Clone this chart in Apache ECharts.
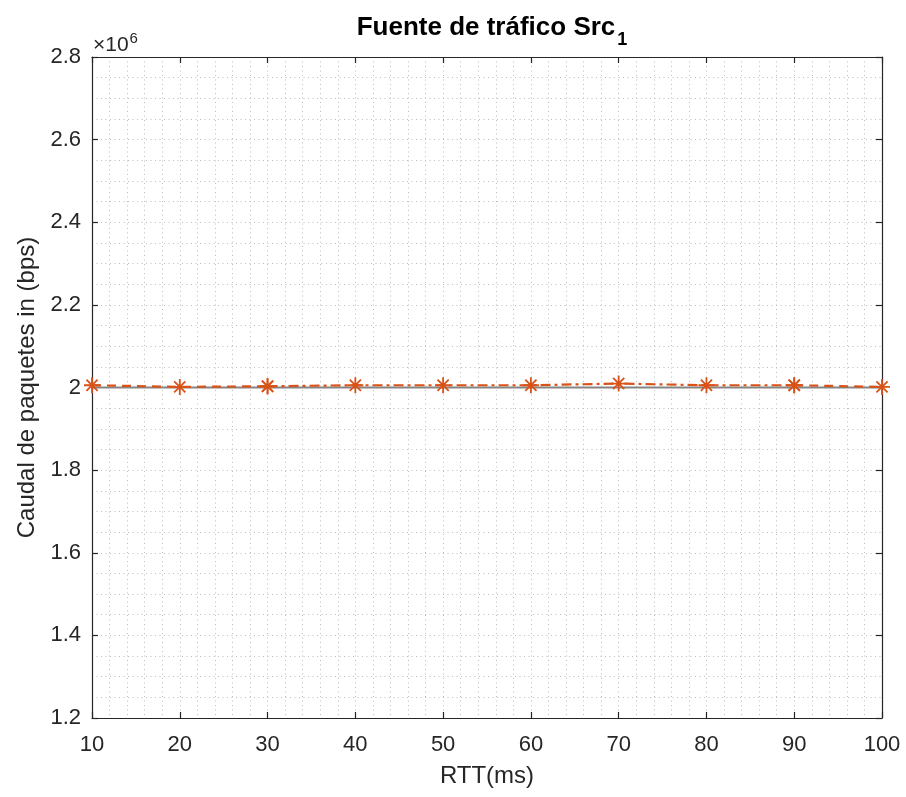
<!DOCTYPE html>
<html>
<head>
<meta charset="utf-8">
<script src="https://cdn.jsdelivr.net/npm/echarts@6/dist/echarts.min.js"></script>
<style>
  html, body { margin: 0; padding: 0; background: #fff; }
  #chart { width: 906px; height: 797px; }
</style>
</head>
<body>
<div id="chart"></div>
<script>
// RTT values (ms) and measured input throughput of source 1 (bps)
const rtt = [10, 20, 30, 40, 50, 60, 70, 80, 90, 100];
const caudal = [2005500, 2001500, 2003000, 2005500, 2005500, 2005500, 2009500, 2005500, 2005500, 2001500];
// nominal rate of the source (bps)
const nominal = [2000000, 2000000];
const nominalX = [10, 100];
const xTicks = [10, 20, 30, 40, 50, 60, 70, 80, 90, 100];
const yTicks = [1.2, 1.4, 1.6, 1.8, 2, 2.2, 2.4, 2.6, 2.8];

const FONT = "'Liberation Sans', Arial, Helvetica, sans-serif";
const INK = '#262626';
const ORANGE = '#D95319';
const GRIDC = '#bdbdbd';

const pts = rtt.map((x, i) => [x, caudal[i]]);
// line styles change along the curve: dashed, dash-dot, dashed
const segA = pts.slice(0, 3);
const segB = pts.slice(2, 9);
const segC = pts.slice(8, 10);

const asterisk = 'path://M10,0L10,20M0,10L20,10M3,3L17,17M3,17L17,3';

function dataSeries(data, dash) {
  return {
    type: 'line',
    data: data,
    symbol: asterisk,
    symbolSize: 16,
    showSymbol: true,
    itemStyle: { color: ORANGE, borderColor: ORANGE, borderWidth: 1.8 },
    lineStyle: { color: ORANGE, width: 2.2, type: dash },
    z: 4,
    animation: false
  };
}

const chart = echarts.init(document.getElementById('chart'), null, { renderer: 'canvas' });

const xBase = {
  type: 'value', min: 10, max: 100, interval: 10,
  axisLine: { show: true, onZero: false, lineStyle: { color: INK, width: 1.2 } },
  axisTick: { show: true, inside: true, length: 6, lineStyle: { color: INK, width: 1.2 } },
  minorTick: { show: false, splitNumber: 5 }
};
const yBase = {
  type: 'value', min: 1200000, max: 2800000, interval: 200000,
  axisLine: { show: true, onZero: false, lineStyle: { color: INK, width: 1.2 } },
  axisTick: { show: true, inside: true, length: 6, lineStyle: { color: INK, width: 1.2 } },
  minorTick: { show: false, splitNumber: 4 }
};
const dotted = { color: GRIDC, width: 1, type: [1, 3.5] };

chart.setOption({
  animation: false,
  backgroundColor: '#fff',
  textStyle: { fontFamily: FONT },
  grid: { left: 92, right: 24, top: 57, bottom: 79, containLabel: false, outerBoundsMode: 'none' },
  title: {
    text: '{t|Fuente de tráfico Src}{s|1}',
    left: 487,
    textAlign: 'center',
    top: 7,
    textStyle: {
      rich: {
        t: { fontFamily: FONT, fontSize: 26, fontWeight: 'bold', color: '#000', lineHeight: 32 },
        s: { fontFamily: FONT, fontSize: 18, fontWeight: 'bold', color: '#000', lineHeight: 32, padding: [24, 0, 0, 2] }
      }
    }
  },
  xAxis: [
    Object.assign({}, xBase, {
      position: 'bottom',
      name: 'RTT(ms)', nameLocation: 'middle', nameGap: 46,
      nameTextStyle: { fontFamily: FONT, fontSize: 24, color: INK },
      axisLabel: {
        show: true, margin: 16, fontFamily: FONT, fontSize: 22, color: INK,
        formatter: v => xTicks.includes(v) ? String(v) : ''
      },
      splitLine: { show: true, lineStyle: dotted },
      minorSplitLine: { show: true, lineStyle: dotted }
    }),
    Object.assign({}, xBase, {
      position: 'top',
      axisLabel: { show: false },
      splitLine: { show: false }
    })
  ],
  yAxis: [
    Object.assign({}, yBase, {
      position: 'left',
      name: 'Caudal de paquetes in (bps)', nameLocation: 'middle', nameGap: 52, nameRotate: 90,
      nameTextStyle: { fontFamily: FONT, fontSize: 24, color: INK },
      axisLabel: {
        show: true, margin: 11, fontFamily: FONT, fontSize: 22, color: INK,
        formatter: v => {
          const t = parseFloat((v / 1e6).toFixed(1));
          return yTicks.includes(t) ? String(t) : '';
        }
      },
      splitLine: { show: true, lineStyle: dotted },
      minorSplitLine: { show: true, lineStyle: dotted }
    }),
    Object.assign({}, yBase, {
      position: 'right',
      axisLabel: { show: false },
      splitLine: { show: false }
    })
  ],
  graphic: [
    {
      type: 'text', left: 93, top: 29, z: 10,
      style: {
        text: '{m|×10}{e|6}',
        rich: {
          m: { fontFamily: FONT, fontSize: 21, fill: INK, lineHeight: 26, padding: [6, 0, 0, 0] },
          e: { fontFamily: FONT, fontSize: 15, fill: INK, lineHeight: 26, padding: [0, 0, 8, 1] }
        }
      }
    }
  ],
  series: [
    {
      type: 'line',
      data: nominalX.map((x, i) => [x, nominal[i]]),
      showSymbol: false,
      symbol: 'none',
      lineStyle: { color: '#858585', width: 2 },
      z: 3,
      animation: false
    },
    dataSeries(segA, [9, 6]),
    dataSeries(segB, [10, 4, 3, 4]),
    dataSeries(segC, [9, 6])
  ]
});
</script>
</body>
</html>
